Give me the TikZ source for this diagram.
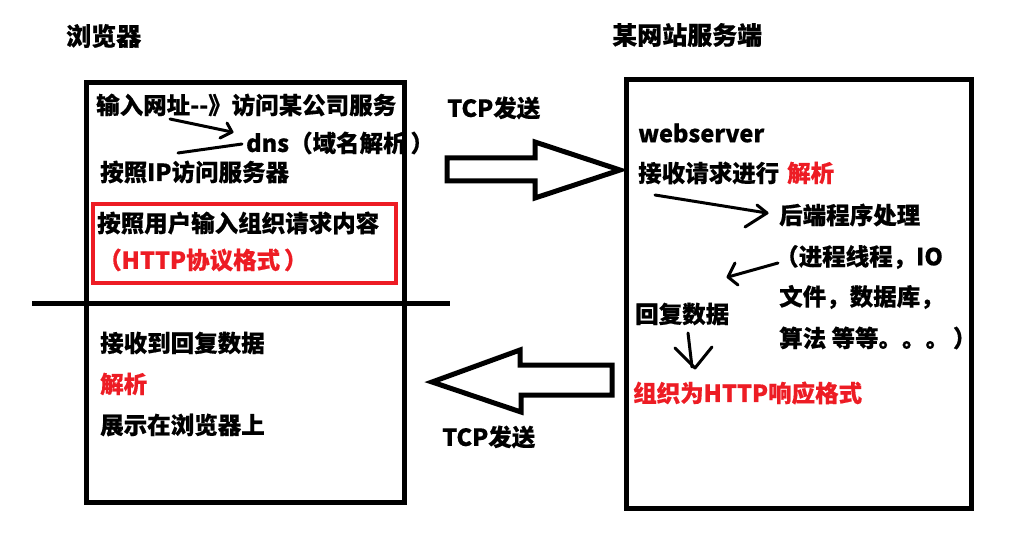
\documentclass[tikz,border=0pt]{standalone}
\usepackage{fontspec}
\setmainfont{Noto Sans CJK SC}[BoldFeatures={FakeBold=0.5}]
\definecolor{pred}{HTML}{ED1C24}
\begin{document}
\begin{tikzpicture}[x=1pt,y=-1pt,
  box/.style={draw, line width=5pt, inner sep=0pt},
  redbox/.style={draw=pred, line width=3.5pt, inner sep=0pt},
  txt/.style={anchor=west, inner sep=0pt, font=\fontsize{23.5}{28}\selectfont\bfseries},
  ttl/.style={txt, font=\fontsize{25}{30}\selectfont\bfseries},
  rtxt/.style={txt, text=pred},
  hand/.style={line width=3pt, line cap=round, line join=round},
  blockarrow/.style={draw, line width=5pt, line join=miter}]
\useasboundingbox (0,0) rectangle (1018,540);

% titles
\node[ttl] (tb) at (66,36) {浏览器};
\node[ttl] (ts) at (612,35) {某网站服务端};

% boxes
\node[box, minimum width=318pt, minimum height=419pt] (browser) at (245,292.5) {};
\node[box, minimum width=345pt, minimum height=428pt] (server) at (798.5,294) {};
\node[redbox, minimum width=303pt, minimum height=79pt] (req) at (244.5,243.5) {};

% divider
\coordinate (d1) at (32,303.5);
\coordinate (d2) at (450,303.5);
\draw[line width=4.5pt] (d1) -- (d2);

% browser texts
\node[txt] (b1) at (96,105) {输入网址-{}-》访问某公司服务};
\node[txt] (b2) at (246,143) {dns（域名解析\,）};
\node[txt] (b3) at (100,172) {按照IP访问服务器};
\node[txt] (b4) at (97,223) {按照用户输入组织请求内容};
\node[rtxt] (b5) at (98,260) {（HTTP协议格式\,）};
\node[txt] (b6) at (100,343) {接收到回复数据};
\node[rtxt] (b7) at (100,384) {解析};
\node[txt] (b8) at (100,425) {展示在浏览器上};

% server texts
\node[txt] (s1) at (638,133) {webserver};
\node[txt] (s2) at (638,173) {接收请求进行};
\node[rtxt] (s3) at (787,173) {解析};
\node[txt] (s4) at (779,215) {后端程序处理};
\node[txt] (s5) at (775,257) {（进程线程，IO};
\node[txt] (s6) at (779,297) {文件，数据库，};
\node[txt] (s7) at (779,338) {算法 等等。。。\,）};
\node[txt] (s8) at (635,314) {回复数据};
\node[rtxt] (s9) at (633,393) {组织为HTTP响应格式};

% TCP labels
\node[txt] (tcp1) at (447,108) {TCP发送};
\node[txt] (tcp2) at (442,437) {TCP发送};

% block arrows
\draw[blockarrow] (447,158) -- (535,158) -- (535,142) -- (620,170) -- (535,198) -- (535,181) -- (447,181) -- cycle;
\draw[blockarrow] (612,365) -- (520,365) -- (520,350) -- (432,382) -- (521,412) -- (521,395) -- (612,395) -- cycle;

% hand drawn arrows (browser)
\draw[hand] (170,119) -- (232,132);
\draw[hand] (227,123) -- (232,132) -- (220,138);
\draw[hand] (242,144) -- (178,153);

% hand drawn arrows (server)
\draw[hand] (655,195) -- (767,213);
\draw[hand] (757,205) -- (767,213) -- (745,227);
\draw[hand] (778,263) -- (728,277);
\draw[hand] (735,263) -- (728,277) -- (738,285);
\draw[hand] (688,333) -- (692,367);
\draw[hand] (675,348) -- (695,368) -- (712,347);
\end{tikzpicture}
\end{document}
